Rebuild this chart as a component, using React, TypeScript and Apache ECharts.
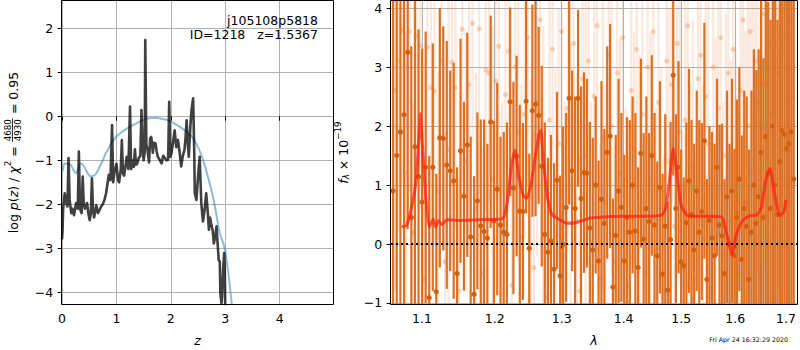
import React, { useEffect, useRef } from "react";
import * as echarts from "echarts";

// ---------- left panel: log p(z) ----------
const zTicks = [0, 1, 2, 3, 4];
const pzTicks = [-4, -3, -2, -1, 0, 1, 2];

const pzBlack: [number, number][] = [
  [0.00,-2.80],[0.01,-2.60],[0.02,-2.13],[0.05,-1.75],[0.08,-1.98],[0.10,-2.05],[0.12,-0.95],[0.14,-1.90],
  [0.17,-2.20],[0.19,-2.10],[0.22,-2.25],[0.26,-1.97],[0.29,-2.10],[0.31,-0.80],[0.33,-2.10],[0.36,-2.20],
  [0.38,-1.37],[0.40,-2.00],[0.42,-2.10],[0.46,-1.97],[0.49,-2.25],[0.51,-2.36],[0.53,-2.20],[0.55,-1.41],
  [0.57,-2.13],[0.59,-2.30],[0.63,-2.02],[0.66,-2.20],[0.69,-2.13],[0.72,-2.05],[0.75,-2.00],[0.78,-1.90],
  [0.81,-1.75],[0.84,-1.50],[0.86,-1.33],[0.89,-1.45],[0.92,-0.20],[0.94,-1.50],[0.96,-1.30],[1.00,-1.08],
  [1.03,-1.45],[1.05,-1.50],[1.08,-1.20],[1.10,-0.54],[1.12,-1.30],[1.14,-1.35],[1.17,-1.10],[1.19,-0.92],
  [1.22,-1.20],[1.25,0.22],[1.27,-1.20],[1.29,-1.00],[1.32,-1.15],[1.34,-0.75],[1.36,-1.10],[1.38,-1.08],
  [1.41,-0.95],[1.44,-0.90],[1.46,0.14],[1.48,-0.62],[1.50,-1.00],[1.52,-0.80],[1.53,1.73],[1.55,-0.65],
  [1.57,-0.75],[1.60,-1.05],[1.62,-0.50],[1.64,-0.47],[1.67,-0.83],[1.69,-0.60],[1.72,-0.62],[1.74,-0.80],
  [1.76,-0.92],[1.80,-1.00],[1.83,-1.07],[1.86,-0.90],[1.89,-0.95],[1.92,-1.00],[1.95,-0.99],[1.97,0.33],
  [1.99,-0.92],[2.01,-0.85],[2.04,-0.60],[2.07,-0.32],[2.10,-0.70],[2.13,-0.54],[2.16,-0.80],[2.19,-1.14],
  [2.22,-0.90],[2.25,-0.77],[2.27,-0.50],[2.29,-0.09],[2.31,-0.60],[2.33,-0.92],[2.36,-0.20],[2.38,0.14],
  [2.41,0.41],[2.43,-0.80],[2.44,-1.75],[2.47,-1.90],[2.50,-1.37],[2.53,-0.92],[2.56,-1.98],[2.59,-2.39],
  [2.62,-2.13],[2.65,-1.75],[2.68,-2.20],[2.70,-2.58],[2.72,-2.30],[2.74,-2.43],[2.77,-2.60],[2.79,-2.89],
  [2.82,-2.70],[2.84,-2.50],[2.86,-2.90],[2.88,-3.27],[2.90,-3.30],[2.91,-4.02],[2.93,-4.25],[2.94,-4.10],
  [2.96,-3.50],[2.98,-3.11],[2.99,-3.40],[3.00,-4.40],[3.02,-4.60]
];

const pzBlue: [number, number][] = [
  [0.01,-1.25],[0.03,-1.12],[0.06,-1.07],[0.10,-1.08],[0.16,-1.10],[0.21,-1.22],[0.26,-1.30],[0.30,-1.18],
  [0.35,-1.07],[0.40,-1.13],[0.44,-1.22],[0.49,-1.33],[0.53,-1.37],[0.58,-1.35],[0.63,-1.30],[0.69,-1.15],
  [0.75,-1.00],[0.80,-0.85],[0.84,-0.77],[0.90,-0.62],[1.00,-0.46],[1.10,-0.36],[1.19,-0.28],[1.30,-0.20],
  [1.43,-0.12],[1.55,-0.06],[1.65,-0.04],[1.75,-0.04],[1.85,-0.06],[1.92,-0.08],[2.00,-0.12],[2.10,-0.19],
  [2.20,-0.27],[2.28,-0.34],[2.35,-0.42],[2.41,-0.50],[2.48,-0.65],[2.56,-0.88],[2.62,-1.10],[2.68,-1.37],
  [2.75,-1.70],[2.81,-2.05],[2.90,-2.65],[2.99,-3.00],[3.06,-3.60],[3.12,-4.27],[3.16,-4.70]
];

// ---------- right panel: spectrum ----------
const lamTicks = [1.1, 1.2, 1.3, 1.4, 1.5, 1.6, 1.7];
const fluxTicks = [-1, 0, 1, 2, 3, 4];

const lamStep = 0.0047;
const darkLamStart = 1.0626;
const lightLamStart = 1.065;

const darkFlux = [
  0.9, 1.5, 1.9, 2.19, 3.25, 0.45, 1.65, 1.14, 0.71, 1.30,
  -0.91, 1.30, -0.81, 1.80, 1.79, 1.34, 1.24, 1.07, -0.50, 1.58,
  0.81, 1.68, 0.12, -0.85, 0.73, 0.31, 0.21, 0.10, 2.07, 0.39,
  0.93, 0.32, 0.20, 0.16, 2.41, 0.95, 1.49, 0.56, 0.55, 2.42,
  -0.07, 2.26, 2.37, 2.18, 1.32, 0.16, -0.14, 0.05, -0.43, 1.08,
  -0.54, -0.01, 0.62, 2.47, 1.24, 0.60, 2.47, 0.77, 1.21, 1.20,
  0.27, -0.10, 1.00, -0.29, 0.76, 0.35, 1.55, 1.83, -0.73, 0.15,
  0.90, 0.62, -0.29, 0.45, 0.20, 1.00, 0.22, -0.40, 1.54, 0.08,
  0.60, 0.38, 1.50, 0.32, -0.20, 0.96, -0.51, 0.30, -0.78, 0.07,
  2.86, 0.60, 1.30, -0.30, -0.37, 0.36, 1.07, 0.50, -0.10, 0.90,
  0.20, 0.55, 1.75, -0.60, 0.40, 0.10, -0.20, 1.30, 0.32, 0.14,
  -0.50, 0.80, 0.00, 0.90, -0.19, 0.45, 1.10, -0.26, 0.60, 0.30,
  -0.60, 0.20, 1.00, 0.35, 0.80, 1.55, 0.45, 1.82, 1.20, 0.60,
  2.00, 1.00, 0.50, 1.40, 1.92, 1.86, 1.62, 1.70, 1.90, 1.10
];
const darkErr = [
  4.8, 3.6, 3.2, 3.5, 3.0, 2.9, 3.1, 2.5, 2.6, 2.3,
  2.4, 2.1, 2.0, 2.2, 1.9, 2.1, 1.7, 2.0, 1.8, 1.9,
  1.6, 1.9, 1.7, 2.0, 1.5, 1.8, 1.9, 1.6, 1.8, 1.7,
  1.8, 1.5, 1.7, 1.9, 1.6, 1.8, 1.7, 1.8, 1.5, 1.9,
  1.6, 1.8, 1.9, 1.5, 1.7, 1.9, 1.6, 1.8, 1.8, 1.5,
  1.7, 2.0, 1.6, 1.8, 1.7, 1.9, 1.5, 1.9, 1.7, 1.6,
  1.8, 1.9, 1.5, 1.7, 2.0, 1.6, 1.8, 1.9, 1.5, 1.7,
  1.9, 1.6, 1.8, 1.7, 1.9, 1.5, 2.0, 1.7, 1.6, 1.8,
  1.9, 1.5, 1.7, 1.9, 1.6, 1.8, 1.7, 1.9, 1.5, 2.0,
  1.7, 1.6, 1.8, 1.9, 1.5, 1.7, 1.9, 1.6, 1.8, 1.7,
  1.9, 1.5, 2.0, 1.7, 1.6, 1.8, 1.9, 1.5, 1.7, 1.9,
  1.6, 1.8, 1.7, 1.9, 1.8, 2.0, 1.9, 2.1, 2.0, 2.2,
  2.2, 2.4, 2.3, 2.6, 2.5, 2.8, 2.7, 3.0, 2.9, 3.2,
  3.1, 3.5, 3.3, 3.7, 3.6, 4.0, 3.8, 4.3, 4.1, 4.7
];

const lightFlux = [
  2.6, 3.1, 3.62, 1.2, 3.6, 0.2, 3.52, 3.36, -0.6, 3.33,
  2.65, 2.59, 0.9, 3.1, -0.3, 1.6, 3.08, 2.65, -0.8, 3.64,
  1.4, 2.7, 3.74, 0.6, 3.65, -0.5, 2.95, 2.9, 1.1, 2.76,
  3.35, 0.3, 2.53, 3.27, -0.7, 3.0, 1.9, 0.1, 2.2, 3.5,
  0.8, -0.4, 2.4, 3.8, 1.3, -0.9, 2.1, 3.3, 0.5, 1.7,
  3.6, -0.2, 2.3, 1.0, 3.4, 0.4, -0.8, 2.8, 1.5, 3.1,
  0.0, 2.5, 3.7, -0.6, 1.8, 0.7, 3.2, 2.0, -0.3, 2.9,
  1.2, 3.5, 0.2, -0.7, 2.6, 1.6, 3.3, 0.6, 2.2, -0.5,
  3.0, 1.1, 3.6, -0.1, 2.4, 0.9, -0.8, 3.1, 1.4, 2.7,
  0.3, 3.4, 1.9, -0.4, 2.1, 3.7, 0.5, 1.3, -0.6, 2.8,
  3.2, 0.1, 2.5, 1.7, -0.9, 3.0, 0.8, 2.3, 3.5, -0.2,
  1.5, 2.9, 0.4, 3.3, 1.0, -0.5, 2.6, 3.8, 0.7, 2.0,
  3.6, 1.2, 3.1, 2.4, 0.0, 3.9, 2.7, 1.8, 3.4, 2.2,
  3.7, 1.1, 2.9, 3.3, 1.6, 3.5, 2.0, 3.8, 2.5
];
const lightErr = [
  3.4, 2.9, 2.6, 2.4, 2.7, 2.2, 2.5, 2.8, 2.1, 2.4,
  2.3, 2.6, 2.0, 2.5, 2.2, 2.7, 2.1, 2.4, 1.9, 2.6,
  2.2, 2.5, 2.0, 2.3, 2.8, 2.1, 2.4, 2.2, 2.6, 2.0,
  2.5, 2.1, 2.3, 2.7, 2.0, 2.4, 2.2, 2.6, 2.1, 2.5,
  2.0, 2.3, 2.6, 2.1, 2.4, 2.2, 2.7, 2.0, 2.5, 2.3,
  2.1, 2.6, 2.2, 2.4, 2.0, 2.5, 2.3, 2.1, 2.7, 2.2,
  2.4, 2.0, 2.5, 2.3, 2.6, 2.1, 2.2, 2.5, 2.0, 2.4,
  2.3, 2.7, 2.1, 2.2, 2.5, 2.0, 2.4, 2.6, 2.1, 2.3,
  2.2, 2.5, 2.0, 2.4, 2.7, 2.1, 2.3, 2.2, 2.6, 2.0,
  2.5, 2.1, 2.4, 2.3, 2.6, 2.0, 2.2, 2.5, 2.1, 2.4,
  2.3, 2.6, 2.2, 2.5, 2.1, 2.4, 2.7, 2.2, 2.3, 2.6,
  2.4, 2.2, 2.7, 2.5, 2.3, 2.8, 2.4, 2.6, 2.9, 2.5,
  2.7, 3.0, 2.6, 2.9, 3.2, 2.8, 3.1, 3.4, 3.0, 3.3,
  3.5, 3.2, 3.7, 3.4, 3.8, 3.6, 4.1, 3.9, 4.4
];

const modelLam = [
  1.0736, 1.0800, 1.0865, 1.0920, 1.0955, 1.0980, 1.1005, 1.1050, 1.1096, 1.1150, 1.1180, 1.1220,
  1.1260, 1.1340, 1.1500, 1.1800, 1.2000, 1.2115, 1.2180, 1.2240, 1.2294, 1.2350, 1.2420, 1.2467,
  1.2530, 1.2600, 1.2650, 1.2680, 1.2720, 1.2780, 1.2850, 1.2974, 1.3090, 1.3250, 1.3450, 1.3700,
  1.4000, 1.4300, 1.4650, 1.4720, 1.4780, 1.4857, 1.4920, 1.5000, 1.5115, 1.5400, 1.5740, 1.5800,
  1.5870, 1.5935, 1.6000, 1.6080, 1.6165, 1.6300, 1.6415, 1.6500, 1.6600, 1.6680, 1.6760, 1.6880,
  1.6960, 1.7000
];
const modelFlux = [
  0.29, 0.32, 0.63, 1.05, 1.70, 2.21, 1.70, 0.80, 0.29, 0.42, 0.29, 0.40,
  0.33, 0.41, 0.40, 0.41, 0.42, 0.43, 0.70, 1.30, 1.59, 1.15, 0.82, 0.77,
  1.00, 1.50, 1.85, 1.93, 1.40, 0.80, 0.50, 0.41, 0.35, 0.37, 0.44, 0.46,
  0.47, 0.47, 0.49, 0.60, 1.00, 1.62, 1.20, 0.65, 0.48, 0.47, 0.46, 0.30,
  0.05, -0.19, 0.10, 0.30, 0.42, 0.48, 0.49, 0.60, 1.10, 1.28, 0.90, 0.48,
  0.55, 0.75
];

const FONT = '"DejaVu Sans", "Noto Sans", sans-serif';
const FS = 12.5;
const SM = 8.75;

const minusFmt = (v: number) => (v < 0 ? "\u2212" + Math.abs(v) : String(v));

let measureCtx: CanvasRenderingContext2D | null = null;
function tw(text: string, size: number, italic = false) {
  if (!measureCtx) measureCtx = document.createElement("canvas").getContext("2d");
  if (!measureCtx) return text.length * size * 0.6;
  measureCtx.font = `${italic ? "italic " : ""}${size}px ${FONT}`;
  return measureCtx.measureText(text).width;
}

type Piece = { t: string; size: number; it?: boolean; dy?: number };

function buildRotated(pieces: Piece[]) {
  let x = 0;
  const children: any[] = [];
  for (const p of pieces) {
    const w = tw(p.t, p.size, !!p.it);
    children.push({
      type: "text",
      x,
      y: p.dy || 0,
      style: {
        text: p.t,
        font: `${p.it ? "italic " : ""}${p.size}px ${FONT}`,
        fill: "#000",
        align: "left",
        verticalAlign: "middle",
      },
    });
    x += w;
  }
  return { total: x, children };
}

function errSeries(data: number[][], barW: number, barColor: string, dotColor: string, r: number, z: number) {
  return {
    type: "custom",
    xAxisIndex: 1,
    yAxisIndex: 1,
    z,
    silent: true,
    data,
    encode: { x: 0, y: 1 },
    renderItem: (params: any, api: any) => {
      const x = api.value(0);
      const y = api.value(1);
      const e = api.value(2);
      const cs = params.coordSys;
      const p = api.coord([x, y]);
      const t = api.coord([x, y + e]);
      const b = api.coord([x, y - e]);
      const y1 = Math.max(cs.y, t[1]);
      const y2 = Math.min(cs.y + cs.height, b[1]);
      const children: any[] = [];
      if (y2 > y1) {
        children.push({
          type: "rect",
          shape: { x: p[0] - barW / 2, y: y1, width: barW, height: y2 - y1 },
          style: { fill: barColor },
        });
      }
      if (p[1] >= cs.y - 1 && p[1] <= cs.y + cs.height + 1) {
        children.push({
          type: "circle",
          shape: { cx: p[0], cy: p[1], r },
          style: { fill: dotColor },
        });
      }
      return { type: "group", children };
    },
  };
}

export default function App() {
  const ref = useRef<HTMLDivElement>(null);

  useEffect(() => {
    if (!ref.current) return;
    const chart = echarts.init(ref.current, null, { renderer: "svg" });

    const L = { left: 62, top: 1, width: 271, height: 303 };
    const R = { left: 391, top: 1, width: 406, height: 303 };

    const darkData = darkFlux.map((v, i) => [Math.log(darkLamStart + lamStep * i), v, darkErr[i]]);
    const lightData = lightFlux.map((v, i) => [Math.log(lightLamStart + lamStep * i), v, lightErr[i]]);
    const modelData = modelLam.map((l, i) => [Math.log(l), modelFlux[i]]);

    const gridLine = { show: true, lineStyle: { color: "#b0b0b0", width: 1 } };
    const tick = (vals: number[]) => ({
      show: true,
      inside: false,
      length: 4.4,
      lineStyle: { color: "#000", width: 1 },
      customValues: vals,
    });
    const label = (vals: number[], fmt: (v: number) => string, margin: number) => ({
      show: true,
      customValues: vals,
      formatter: fmt,
      color: "#000",
      fontSize: FS,
      fontFamily: FONT,
      margin,
    });

    // left y label
    const lp: Piece[] = [
      { t: "log ", size: FS },
      { t: "p", size: FS, it: true },
      { t: "(", size: FS },
      { t: "z", size: FS, it: true },
      { t: ") / ", size: FS },
      { t: "\u03c7", size: FS, it: true },
      { t: "2", size: SM, dy: -5 },
      { t: " = ", size: FS },
    ];
    const left1 = buildRotated(lp);
    const fracW = Math.max(tw("4680", SM), tw("4930", SM)) + 2;
    const fracX = left1.total;
    const tail = " = 0.95";
    const tailW = tw(tail, FS);
    const totalL = fracX + fracW + tailW;
    const leftChildren = [
      ...left1.children,
      {
        type: "text",
        x: fracX + fracW / 2,
        y: -4.8,
        style: { text: "4680", font: `${SM}px ${FONT}`, fill: "#000", align: "center", verticalAlign: "middle" },
      },
      {
        type: "line",
        shape: { x1: fracX + 0.5, y1: -0.5, x2: fracX + fracW - 0.5, y2: -0.5 },
        style: { stroke: "#000", lineWidth: 0.8 },
      },
      {
        type: "text",
        x: fracX + fracW / 2,
        y: 4.6,
        style: { text: "4930", font: `${SM}px ${FONT}`, fill: "#000", align: "center", verticalAlign: "middle" },
      },
      {
        type: "text",
        x: fracX + fracW,
        y: 0,
        style: { text: tail, font: `${FS}px ${FONT}`, fill: "#000", align: "left", verticalAlign: "middle" },
      },
    ];

    // right y label
    const rp: Piece[] = [
      { t: "f", size: FS, it: true },
      { t: "\u03bb", size: SM, it: true, dy: 3 },
      { t: " \u00d7 10", size: FS },
      { t: "\u221219", size: SM, dy: -5 },
    ];
    const right1 = buildRotated(rp);

    const cyMid = L.top + L.height / 2;

    const zW = tw("z=1.5367", FS);
    const spW = tw("   ", FS);

    const option: any = {
      animation: false,
      grid: [
        { ...L, show: false, outerBoundsMode: "none", containLabel: false },
        { ...R, show: false, outerBoundsMode: "none", containLabel: false },
      ],
      xAxis: [
        {
          gridIndex: 0,
          type: "value",
          min: 0,
          max: 4.98,
          axisLine: { show: false },
          axisTick: tick(zTicks),
          axisLabel: label(zTicks, (v: number) => String(v), 8.2),
          splitLine: gridLine,
        },
        {
          gridIndex: 1,
          type: "value",
          min: Math.log(1.06),
          max: Math.log(1.7226),
          axisLine: { show: false },
          axisTick: tick(lamTicks.map(Math.log)),
          axisLabel: label(lamTicks.map(Math.log), (v: number) => Math.exp(v).toFixed(1), 8.2),
          splitLine: gridLine,
        },
      ],
      yAxis: [
        {
          gridIndex: 0,
          type: "value",
          min: -4.266,
          max: 2.62,
          axisLine: { show: false },
          axisTick: tick(pzTicks),
          axisLabel: label(pzTicks, minusFmt, 8.8),
          splitLine: gridLine,
        },
        {
          gridIndex: 1,
          type: "value",
          min: -1.017,
          max: 4.119,
          axisLine: { show: false },
          axisTick: tick(fluxTicks),
          axisLabel: label(fluxTicks, minusFmt, 8.8),
          splitLine: gridLine,
        },
      ],
      series: [
        {
          type: "line",
          xAxisIndex: 0,
          yAxisIndex: 0,
          data: pzBlue,
          showSymbol: false,
          symbol: "none",
          smooth: 0.3,
          clip: true,
          silent: true,
          lineStyle: { color: "rgba(31,119,180,0.5)", width: 2 },
          z: 2,
        },
        {
          type: "line",
          xAxisIndex: 0,
          yAxisIndex: 0,
          data: pzBlack,
          showSymbol: false,
          symbol: "none",
          clip: true,
          silent: true,
          lineStyle: { color: "rgba(0,0,0,0.75)", width: 2.6, join: "round" },
          z: 3,
        },
        errSeries(lightData, 2.2, "rgba(236,150,95,0.22)", "rgba(228,128,60,0.32)", 2.6, 2),
        errSeries(darkData, 2.2, "#dc6f22", "#d0600d", 2.6, 3),
        {
          type: "line",
          xAxisIndex: 1,
          yAxisIndex: 1,
          data: modelData,
          showSymbol: false,
          symbol: "none",
          smooth: 0.2,
          clip: true,
          silent: true,
          lineStyle: { color: "rgba(255,30,15,0.72)", width: 3 },
          z: 5,
        },
        {
          type: "line",
          xAxisIndex: 1,
          yAxisIndex: 1,
          data: [],
          z: 6,
          silent: true,
          markLine: {
            silent: true,
            symbol: "none",
            animation: false,
            label: { show: false },
            lineStyle: { color: "#000", width: 2, type: [2, 3] },
            data: [{ yAxis: 0 }],
          },
        },
      ],
      graphic: [
        {
          type: "rect",
          z: 100,
          shape: { x: L.left - 0.5, y: L.top - 0.5, width: L.width + 1, height: L.height + 1 },
          style: { fill: "none", stroke: "#000", lineWidth: 1 },
          silent: true,
        },
        {
          type: "rect",
          z: 100,
          shape: { x: R.left - 0.5, y: R.top - 0.5, width: R.width + 1, height: R.height + 1 },
          style: { fill: "none", stroke: "#000", lineWidth: 1 },
          silent: true,
        },
        {
          type: "text",
          z: 101,
          x: 318,
          y: 20,
          style: { text: "j105108p5818", font: `${FS}px ${FONT}`, fill: "#000", align: "right", verticalAlign: "middle" },
        },
        {
          type: "text",
          z: 101,
          x: 318,
          y: 34.5,
          style: { text: "z=1.5367", font: `${FS}px ${FONT}`, fill: "#000", align: "right", verticalAlign: "middle" },
        },
        {
          type: "text",
          z: 101,
          x: 318 - zW - spW,
          y: 34.5,
          style: { text: "ID=1218", font: `${FS}px ${FONT}`, fill: "#000", align: "right", verticalAlign: "middle" },
        },
        {
          type: "text",
          x: L.left + L.width / 2,
          y: 340,
          style: { text: "z", font: `italic ${FS}px ${FONT}`, fill: "#000", align: "center", verticalAlign: "middle" },
        },
        {
          type: "text",
          x: R.left + R.width / 2,
          y: 340,
          style: { text: "\u03bb", font: `italic ${FS}px ${FONT}`, fill: "#000", align: "center", verticalAlign: "middle" },
        },
        {
          type: "text",
          x: 788,
          y: 339,
          style: { text: "Fri Apr 24 16:32:29 2020", font: `6.3px ${FONT}`, fill: "#000", align: "right", verticalAlign: "middle" },
        },
        {
          type: "group",
          x: 13,
          y: cyMid + totalL / 2,
          rotation: Math.PI / 2,
          children: leftChildren,
        },
        {
          type: "group",
          x: 343,
          y: cyMid + right1.total / 2,
          rotation: Math.PI / 2,
          children: right1.children,
        },
      ],
    };

    chart.setOption(option);
    return () => chart.dispose();
  }, []);

  return (
    <div
      ref={ref}
      style={{ position: "fixed", left: 0, top: 0, width: 800, height: 350, background: "#fff" }}
    />
  );
}
